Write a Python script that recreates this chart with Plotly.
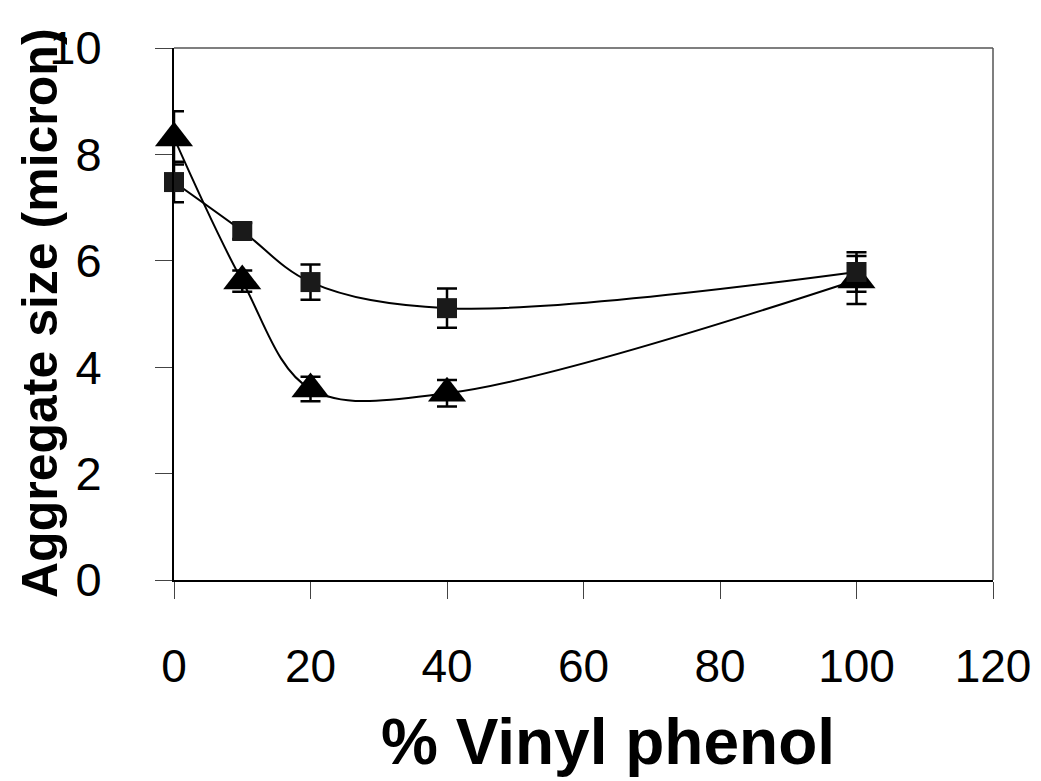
import plotly.graph_objects as go

# Data
vinyl_phenol_sq = [0, 10, 20, 40, 100]
size_sq = [7.48, 6.56, 5.60, 5.11, 5.79]
err_sq = [0.38, 0.15, 0.33, 0.37, 0.37]

vinyl_phenol_tri = [0, 10, 20, 40, 100]
size_tri = [8.31, 5.62, 3.59, 3.51, 5.64]
err_tri = [0.50, 0.20, 0.23, 0.25, 0.45]

x_ticks = [0, 20, 40, 60, 80, 100, 120]
y_ticks = [0, 2, 4, 6, 8, 10]

FONT = "Liberation Sans, Arial, sans-serif"

# page body has an 8px margin; work in figure coordinates
OFF = 8
W, H = 1041 - OFF, 781 - OFF
L, R, T, B = 174 - OFF, 993 - OFF, 48 - OFF, 580 - OFF

fig = go.Figure()

fig.add_trace(go.Scatter(
    x=vinyl_phenol_tri, y=size_tri, mode="lines+markers", name="Triangles",
    line=dict(color="black", width=2, shape="spline", smoothing=1),
    marker=dict(symbol="triangle-up", size=33, color="black"),
    error_y=dict(type="data", array=err_tri, visible=True, color="black",
                 thickness=2.5, width=10),
    cliponaxis=False,
))

fig.add_trace(go.Scatter(
    x=vinyl_phenol_sq, y=size_sq, mode="lines+markers", name="Squares",
    line=dict(color="black", width=2, shape="spline", smoothing=1),
    marker=dict(symbol="square", size=20, color="#1a1a1a"),
    error_y=dict(type="data", array=err_sq, visible=True, color="black",
                 thickness=2.5, width=10),
    cliponaxis=False,
))

fig.update_layout(
    width=W, height=H,
    margin=dict(l=L, r=W - R, t=T, b=H - B),
    paper_bgcolor="white", plot_bgcolor="white",
    showlegend=False,
    font=dict(family=FONT, color="black"),
    xaxis=dict(
        range=[0, 120], tickvals=x_ticks, ticktext=[str(v) for v in x_ticks],
        showgrid=False, zeroline=False, automargin=False,
        showline=True, linecolor="black", linewidth=2,
        ticks="outside", ticklen=17, tickwidth=1, tickcolor="#444",
        tickfont=dict(size=46, family=FONT, color="black"),
        ticklabelstandoff=28,
    ),
    yaxis=dict(
        range=[0, 10], tickvals=y_ticks, ticktext=[str(v) for v in y_ticks],
        showgrid=False, zeroline=False, automargin=False,
        showline=True, linecolor="black", linewidth=2,
        ticks="outside", ticklen=17, tickwidth=1, tickcolor="#444",
        tickfont=dict(size=47, family=FONT, color="black"),
        ticklabelstandoff=44,
    ),
    shapes=[
        dict(type="line", xref="x domain", yref="y domain", x0=0, x1=1, y0=1, y1=1,
             line=dict(color="#555", width=1.5)),
        dict(type="line", xref="x domain", yref="y domain", x0=1, x1=1, y0=0, y1=1,
             line=dict(color="#555", width=1.5)),
    ],
    annotations=[
        dict(text="<b>% Vinyl phenol</b>", xref="paper", yref="paper",
             x=(608 - OFF - L) / (R - L), y=-(742 - OFF - B) / (B - T),
             xanchor="center", yanchor="middle", showarrow=False,
             font=dict(size=64, family=FONT, color="black")),
        dict(text="<b>Aggregate size (micron)</b>", xref="paper", yref="paper",
             x=-(L - (40 - OFF)) / (R - L), y=(B - (313 - OFF)) / (B - T), textangle=-90,
             xanchor="center", yanchor="middle", showarrow=False, borderpad=0,
             font=dict(size=50, family=FONT, color="black")),
    ],
)

fig.write_html("out.html")
